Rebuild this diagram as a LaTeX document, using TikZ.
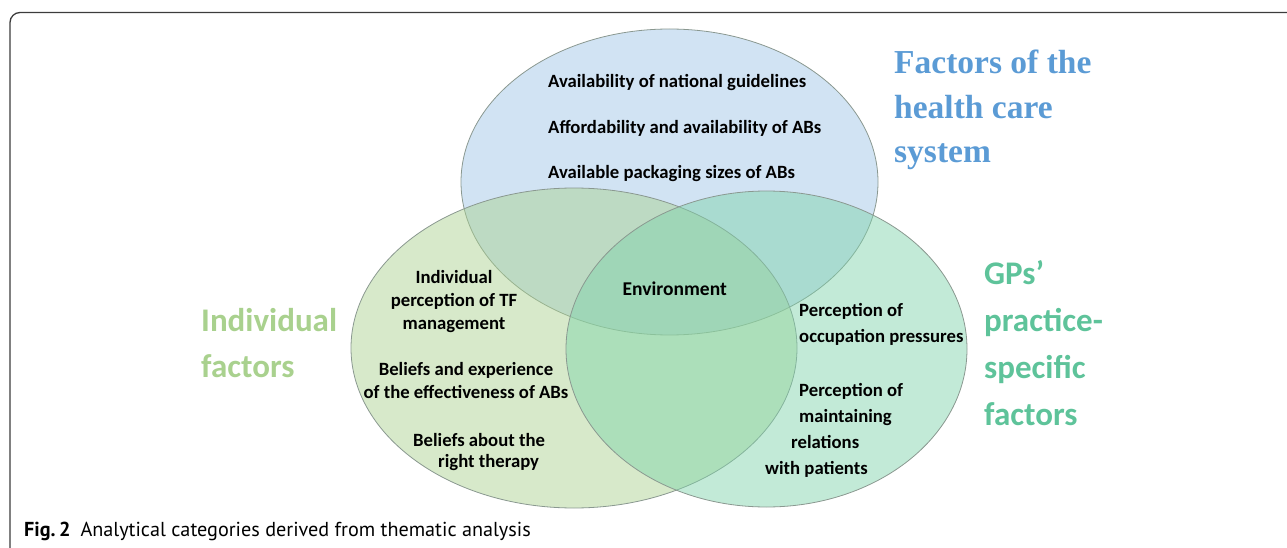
\documentclass[tikz,border=0pt]{standalone}
\usepackage{fontspec}
\setmainfont{Carlito}
\newfontfamily\headserif{Liberation Serif}
\newfontfamily\capfont{PT Sans}
\usetikzlibrary{positioning}

\definecolor{hcblue}{HTML}{9DC3E6}
\definecolor{indgreen}{HTML}{A9D18E}
\definecolor{gpgreen}{HTML}{7ED3AA}
\definecolor{hctitle}{HTML}{5B9BD5}
\definecolor{gptitle}{HTML}{5EC39A}
\definecolor{rim}{HTML}{8A9890}
\definecolor{framegray}{HTML}{3C3C3C}

\tikzset{
  frame/.style={draw=framegray, line width=1.3pt, rounded corners=10pt},
  set/.style={draw=rim, line width=0.8pt, fill opacity=0.47},
  item/.style={inner sep=0pt, text=black, font=\fontsize{18.7}{23}\selectfont\bfseries},
  itemwide/.style={item, font=\fontsize{18.7}{26}\selectfont\bfseries},
  sansbig/.style={inner sep=0pt, align=left, anchor=north west, font=\fontsize{33}{46}\selectfont\bfseries},
}

\begin{document}
\begin{tikzpicture}[x=1pt,y=-1pt]
\useasboundingbox (0,0) rectangle (1287,548);

% frame round the figure
\draw[frame] (10,548) -- (10,12.5) -- (1287,12.5);

% the three sets
\path[set, fill=hcblue] (669.5,182) ellipse [x radius=208.5pt, y radius=153pt];
\path[set, fill=indgreen] (574,348) ellipse [x radius=223pt, y radius=160pt];
\path[set, fill=gpgreen] (766.5,349) ellipse [x radius=200.5pt, y radius=158pt];

% health care system
\node[item, anchor=base west] (guide) at (548,88) {Availability of national guidelines};
\node[item, anchor=base west] (afford) at (548,134) {Affordability and availability of ABs};
\node[item, anchor=base west] (pack) at (548,179) {Available packaging sizes of ABs};
\node[inner sep=0pt, align=left, anchor=north west, text=hctitle,
      font=\headserif\fontsize{33.5}{44.5}\selectfont\bfseries] (hctit) at (894,50)
      {Factors of the\\health care\\system};

% individual factors
\node[item, align=center, anchor=north] (tfman) at (454,270) {Individual\\perception of TF\\management};
\node[item, align=center, anchor=north] (effect) at (466,362) {Beliefs and experience\\of the effectiveness of ABs};
\node[item, align=left, anchor=north west, font=\fontsize{18.7}{21.5}\selectfont\bfseries] (therapy) at (413,433)
      {Beliefs about the\\\hspace*{25pt}right therapy};
\node[sansbig, text=indgreen] (indtit) at (201,308) {Individual\\factors};

% centre
\node[item, anchor=base east, font=\fontsize{19.5}{24}\selectfont\bfseries] (env) at (727,295) {Environment};

% practice-specific factors
\node[itemwide, align=left, anchor=north west] (occup) at (799,303) {Perception of\\occupation pressures};
\node[itemwide, align=left, anchor=north west] (relat) at (765,383)
      {\hspace*{34pt}Perception of\\\hspace*{34pt}maintaining\\\hspace*{26pt}relations\\with patients};
\node[sansbig, text=gptitle, font=\fontsize{33}{47}\selectfont\bfseries] (gptit) at (984,260) {GPs’\\practice-\\specific\\factors};

% caption
\node[inner sep=0pt, anchor=base west, font=\capfont\fontsize{20.2}{24}\selectfont] (cap) at (24,536)
      {\textbf{Fig.\,2}\hspace{10pt}Analytical categories derived from thematic analysis};
\end{tikzpicture}
\end{document}
